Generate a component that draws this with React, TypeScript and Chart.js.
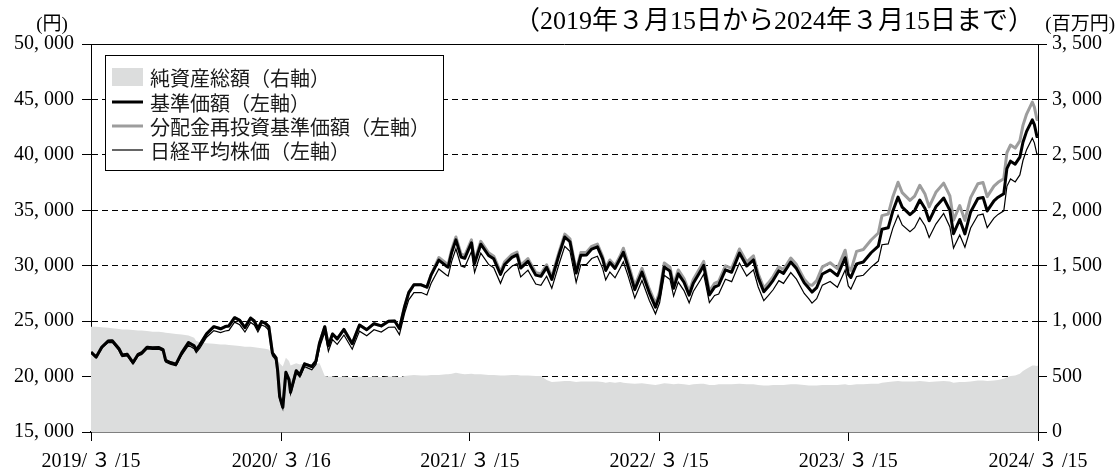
import React, { useEffect, useRef } from "react";
import { Chart, registerables } from "chart.js";

Chart.register(...registerables);

// ---- data ----
const dates = [
  "2019-03-15","2019-03-25","2019-04-05","2019-04-17","2019-04-25","2019-05-08","2019-05-14","2019-05-24","2019-06-04","2019-06-14",
  "2019-06-21","2019-07-01","2019-07-12","2019-07-24","2019-08-01","2019-08-06","2019-08-15","2019-08-26","2019-09-06","2019-09-19",
  "2019-09-30","2019-10-04","2019-10-11","2019-10-24","2019-11-07","2019-11-20","2019-11-29","2019-12-06","2019-12-17","2019-12-27",
  "2020-01-06","2020-01-17","2020-01-24","2020-01-31","2020-02-07","2020-02-14","2020-02-21","2020-02-28","2020-03-06","2020-03-09",
  "2020-03-13","2020-03-19","2020-03-25","2020-03-31","2020-04-03","2020-04-14","2020-04-21","2020-04-30","2020-05-14","2020-05-22",
  "2020-05-29","2020-06-08","2020-06-15","2020-06-23","2020-07-02","2020-07-15","2020-07-31","2020-08-14","2020-08-28","2020-09-11",
  "2020-09-25","2020-10-09","2020-10-21","2020-10-30","2020-11-09","2020-11-17","2020-11-27","2020-12-11","2020-12-22","2020-12-30",
  "2021-01-14","2021-01-28","2021-02-01","2021-02-08","2021-02-16","2021-02-26","2021-03-05","2021-03-18","2021-03-24","2021-04-05",
  "2021-04-20","2021-04-30","2021-05-13","2021-05-21","2021-06-04","2021-06-14","2021-06-21","2021-07-05","2021-07-20","2021-07-30",
  "2021-08-10","2021-08-20","2021-09-03","2021-09-14","2021-09-24","2021-10-06","2021-10-15","2021-10-26","2021-11-05","2021-11-16",
  "2021-11-26","2021-12-02","2021-12-10","2021-12-20","2021-12-30","2022-01-05","2022-01-14","2022-01-27","2022-02-10","2022-02-24",
  "2022-03-08","2022-03-16","2022-03-25","2022-04-05","2022-04-12","2022-04-21","2022-05-02","2022-05-12","2022-05-20","2022-06-03",
  "2022-06-09","2022-06-20","2022-06-30","2022-07-08","2022-07-21","2022-08-02","2022-08-17","2022-08-31","2022-09-13","2022-09-22",
  "2022-10-03","2022-10-12","2022-10-21","2022-11-01","2022-11-10","2022-11-24","2022-12-05","2022-12-20","2022-12-29","2023-01-04",
  "2023-01-13","2023-01-24","2023-02-08","2023-02-22","2023-03-09","2023-03-15","2023-03-20","2023-03-31","2023-04-13","2023-04-28",
  "2023-05-12","2023-05-19","2023-05-31","2023-06-09","2023-06-19","2023-06-27","2023-07-12","2023-07-21","2023-07-31","2023-08-10",
  "2023-08-18","2023-08-31","2023-09-15","2023-09-27","2023-10-04","2023-10-16","2023-10-26","2023-11-06","2023-11-20","2023-11-30",
  "2023-12-08","2023-12-21","2023-12-29","2024-01-09","2024-01-15","2024-01-22","2024-01-31","2024-02-09","2024-02-15","2024-02-22",
  "2024-03-04","2024-03-08","2024-03-13","2024-03-15",
];

// 基準価額（左軸）
const navValues = [
  22200,21760,22670,23210,23240,22510,21950,22010,21270,22010,
  22150,22640,22600,22620,22440,21460,21270,21120,22140,23070,
  22770,22410,22860,23850,24500,24310,24510,24570,25310,25070,
  24420,25280,25010,24320,24960,24820,24500,22130,21680,20590,
  18190,17230,20380,19730,18590,20530,20150,21150,20910,21400,
  23040,24490,22780,23840,23400,24250,22970,24650,24230,24770,
  24570,25000,25020,24330,26310,27570,28280,28280,28060,29150,
  30500,29980,29870,31220,32330,30780,30670,32070,30200,31940,
  30920,30620,29210,30110,30750,30980,29790,30400,29150,29040,
  29850,28760,31000,32590,32160,29340,30940,30970,31500,31700,
  30610,29570,30280,29760,30650,31210,29910,27840,29420,27580,
  26260,27310,29890,29510,27960,29270,28510,27350,28420,29530,
  30030,27370,28070,28240,29630,29410,31140,29970,30520,28950,
  27650,28120,28680,29550,29310,30330,29740,28450,27960,27620,
  28030,29250,29620,29100,30720,29230,28940,30170,30340,31170,
  31770,33290,33420,34940,36190,35280,34610,34980,35930,35160,
  34050,35310,36110,35000,32890,34170,32870,34850,36060,36160,
  34940,35850,36180,36500,38760,39430,39160,39790,41140,42120,
  43160,42730,41650,41660,
];

// 分配金再投資基準価額（左軸）
const reinvestValues = [
  22200,21760,22670,23210,23240,22510,21950,22010,21270,22010,
  22150,22640,22600,22620,22440,21460,21270,21120,22140,23070,
  22770,22410,22860,23850,24500,24310,24510,24570,25310,25070,
  24420,25280,25010,24320,24960,24820,24500,22130,21680,20590,
  18190,17230,20380,19730,18590,20530,20150,21150,20910,21400,
  23040,24490,22780,23840,23400,24250,22970,24650,24230,24770,
  24570,25000,25020,24330,26310,27570,28280,28280,28060,29150,
  30740,30220,30110,31470,32590,31030,30920,32330,30440,32200,
  31170,30860,29440,30350,31000,31230,30030,30640,29380,29270,
  30090,28990,31250,32850,32420,29570,31190,31220,31750,31950,
  30850,29810,30520,30000,30900,31580,30270,28170,29770,27910,
  26580,27640,30250,29860,28300,29620,28850,27680,28760,29880,
  30390,27700,28410,28580,29990,29760,31510,30330,30890,29300,
  27980,28460,29020,29900,29660,30690,30100,28790,28300,28230,
  28650,29890,30270,29740,31400,29870,29580,31290,31460,32320,
  32950,34520,34660,36230,37530,36590,35890,36270,37260,36460,
  35310,36620,37450,36300,34110,35430,34090,36140,37390,37500,
  36230,37180,37520,37850,40190,40890,40610,41260,42660,43680,
  44760,44310,43190,43200,
];

// 日経平均株価（左軸）
const nikkeiValues = [
  22200,21710,22570,23060,23090,22360,21800,21860,21120,21860,
  22000,22490,22450,22470,22290,21310,21120,20970,21940,22820,
  22520,22160,22560,23550,24150,23960,24110,24170,24910,24670,
  24020,24880,24660,24020,24660,24520,24200,21880,21480,20390,
  18040,17130,20230,19580,18440,20330,19950,20900,20610,21100,
  22640,23990,22280,23340,22900,23750,22470,24100,23680,24220,
  24020,24450,24470,23780,25710,26920,27580,27580,27360,28400,
  29700,29180,29070,30420,31530,29980,29870,31270,29400,31140,
  30120,29820,28410,29310,29950,30180,28990,29600,28350,28240,
  29050,27960,30150,31740,31310,28490,30090,30120,30650,30850,
  29760,28720,29430,28910,29800,30360,29110,27090,28670,26880,
  25660,26660,29140,28760,27260,28520,27760,26650,27670,28730,
  29230,26670,27320,27440,28780,28560,30240,29070,29620,28100,
  26850,27320,27830,28650,28410,29380,28790,27500,27010,26620,
  27030,28250,28570,28050,29620,28180,27890,29020,29140,29870,
  30420,31890,31970,33390,34540,33680,33060,33430,34330,33610,
  32550,33760,34710,33500,31590,32770,31670,33400,34560,34660,
  33440,34300,34630,34950,37160,37830,37560,38190,39490,40470,
  41510,41080,40050,40060,
];

// 純資産総額（右軸、百万円）
const netAssets = [
  950,950,945,940,935,930,925,925,920,915,
  915,910,905,905,900,895,890,885,880,870,
  850,820,810,800,795,790,790,785,780,775,
  770,770,765,760,755,750,745,700,690,660,
  620,590,670,640,600,620,610,620,610,615,
  620,505,500,500,495,500,490,500,495,500,
  495,500,500,495,505,510,515,510,510,515,
  515,520,520,525,535,525,520,525,520,520,
  515,515,510,510,515,515,510,510,505,505,
  470,450,455,460,460,450,455,455,455,455,
  450,445,450,445,450,445,440,435,440,430,
  425,430,440,435,430,435,430,425,430,435,
  435,425,425,430,430,430,435,430,430,425,
  420,420,425,425,425,430,430,425,420,420,
  420,425,425,425,430,425,425,430,430,435,
  435,445,450,455,460,455,455,455,460,455,
  450,455,460,455,445,450,450,455,465,465,
  460,465,470,480,495,505,510,525,550,570,
  600,600,595,600,
];

const leftTicks = [15000, 20000, 25000, 30000, 35000, 40000, 45000, 50000];
const leftTickLabels = ["15, 000", "20, 000", "25, 000", "30, 000", "35, 000", "40, 000", "45, 000", "50, 000"];
const rightTicks = [0, 500, 1000, 1500, 2000, 2500, 3000, 3500];
const rightTickLabels = ["0", "500", "1, 000", "1, 500", "2, 000", "2, 500", "3, 000", "3, 500"];
const xTickDates = ["2019-03-15", "2020-03-16", "2021-03-15", "2022-03-15", "2023-03-15", "2024-03-15"];
const xTickLabels = [
  "2019/\u2009３\u2009/15",
  "2020/\u2009３\u2009/16",
  "2021/\u2009３\u2009/15",
  "2022/\u2009３\u2009/15",
  "2023/\u2009３\u2009/15",
  "2024/\u2009３\u2009/15",
];

const legendLabels = ["純資産総額（右軸）", "基準価額（左軸）", "分配金再投資基準価額（左軸）", "日経平均株価（左軸）"];
const titleText = "（2019年３月15日から2024年３月15日まで）";
const leftUnit = "(円)";
const rightUnit = "(百万円)";

// ---- styling ----
const W = 1116;
const H = 468;
const SERIF = '"Liberation Serif", "Noto Sans CJK JP", serif';
const SANS = '"Noto Sans CJK JP", "Noto Sans", sans-serif';
const AREA_COLOR = "#dcdddd";
const GREY_LINE = "#9d9d9d";

const DAY = 86400000;
const t0 = Date.parse(dates[0] + "T00:00:00Z");
const dayOf = (d: string) => Math.round((Date.parse(d + "T00:00:00Z") - t0) / DAY);
const xs = dates.map(dayOf);
const pts = (vals: number[]) => vals.map((v, i) => ({ x: xs[i], y: v }));

const decorPlugin = {
  id: "decor",
  afterDraw(chart: any) {
    const { ctx, chartArea } = chart;
    const { left, right, top } = chartArea;
    ctx.save();
    // top frame line
    ctx.strokeStyle = "#000";
    ctx.lineWidth = 1;
    ctx.setLineDash([]);
    ctx.beginPath();
    ctx.moveTo(left, Math.round(top) + 0.5);
    ctx.lineTo(right, Math.round(top) + 0.5);
    ctx.stroke();

    // unit labels and title
    ctx.fillStyle = "#000";
    ctx.textBaseline = "middle";
    ctx.font = `19px ${SERIF}`;
    ctx.textAlign = "center";
    ctx.fillText(leftUnit, 52, 25);
    ctx.textAlign = "right";
    ctx.fillText(rightUnit, 1115, 25);
    ctx.font = `26px ${SERIF}`;
    ctx.fillText(titleText, 1034, 22);

    // legend
    const bx = 105.5, by = 55.5, bw = 338, bh = 115;
    ctx.fillStyle = "#fff";
    ctx.fillRect(bx, by, bw, bh);
    ctx.strokeStyle = "#000";
    ctx.lineWidth = 1;
    ctx.strokeRect(bx, by, bw, bh);
    const rows = [77, 102, 126, 150];
    const sx1 = 112, sx2 = 143;
    ctx.fillStyle = AREA_COLOR;
    ctx.fillRect(sx1, rows[0] - 9, sx2 - sx1, 18);
    ctx.strokeStyle = "#000";
    ctx.lineWidth = 3;
    ctx.beginPath(); ctx.moveTo(sx1, rows[1]); ctx.lineTo(sx2, rows[1]); ctx.stroke();
    ctx.strokeStyle = GREY_LINE;
    ctx.lineWidth = 3;
    ctx.beginPath(); ctx.moveTo(sx1, rows[2]); ctx.lineTo(sx2, rows[2]); ctx.stroke();
    ctx.strokeStyle = "#000";
    ctx.lineWidth = 1.2;
    ctx.beginPath(); ctx.moveTo(sx1, rows[3]); ctx.lineTo(sx2, rows[3]); ctx.stroke();
    ctx.fillStyle = "#1a1a1a";
    ctx.font = `20px ${SANS}`;
    ctx.textAlign = "left";
    ctx.textBaseline = "middle";
    legendLabels.forEach((t, i) => ctx.fillText(t, 150, rows[i] + 1));
    ctx.restore();
  },
};

export default function App() {
  const ref = useRef<HTMLCanvasElement | null>(null);

  useEffect(() => {
    if (!ref.current) return;
    const tickFont = { family: SERIF, size: 20 };
    const chart = new Chart(ref.current, {
      type: "line",
      data: {
        datasets: [
          {
            label: legendLabels[3],
            data: pts(nikkeiValues),
            yAxisID: "y",
            borderColor: "#000",
            borderWidth: 1.2,
            pointRadius: 0,
            tension: 0,
            fill: false,
            order: 1,
          },
          {
            label: legendLabels[1],
            data: pts(navValues),
            yAxisID: "y",
            borderColor: "#000",
            borderWidth: 3,
            borderJoinStyle: "round",
            pointRadius: 0,
            tension: 0,
            fill: false,
            order: 2,
          },
          {
            label: legendLabels[2],
            data: pts(reinvestValues),
            yAxisID: "y",
            borderColor: GREY_LINE,
            borderWidth: 3,
            borderJoinStyle: "round",
            pointRadius: 0,
            tension: 0,
            fill: false,
            order: 3,
          },
          {
            label: legendLabels[0],
            data: pts(netAssets),
            yAxisID: "y1",
            borderColor: AREA_COLOR,
            borderWidth: 0,
            backgroundColor: AREA_COLOR,
            pointRadius: 0,
            tension: 0,
            fill: "origin",
            order: 4,
          },
        ],
      },
      options: {
        responsive: false,
        animation: false,
        events: [],
        layout: { padding: { top: 44, left: 0, right: 0, bottom: 0 } },
        plugins: { legend: { display: false }, tooltip: { enabled: false }, title: { display: false } },
        scales: {
          x: {
            type: "linear",
            position: "bottom",
            min: 0,
            max: dayOf(xTickDates[xTickDates.length - 1]),
            afterBuildTicks: (s: any) => {
              s.ticks = xTickDates.map((d) => ({ value: dayOf(d) }));
            },
            afterFit: (s: any) => {
              s.height = H - 432;
            },
            grid: { drawOnChartArea: false, drawTicks: true, tickLength: 9, tickColor: "#000", tickWidth: 1 },
            border: { display: true, color: "#000", width: 1.5 },
            ticks: {
              font: tickFont,
              color: "#000",
              padding: 9,
              autoSkip: false,
              maxRotation: 0,
              minRotation: 0,
              callback: (_v: any, i: number) => xTickLabels[i],
            },
          },
          y: {
            position: "left",
            min: 15000,
            max: 50000,
            afterBuildTicks: (s: any) => {
              s.ticks = leftTicks.map((v) => ({ value: v }));
            },
            afterFit: (s: any) => {
              s.width = 91;
            },
            grid: {
              drawOnChartArea: true,
              drawTicks: true,
              tickLength: 9,
              tickColor: "#000",
              tickWidth: 1,
              lineWidth: 1,
              color: (c: any) =>
                c.tick && (c.tick.value === 15000 || c.tick.value === 50000) ? "rgba(0,0,0,0)" : "#000",
            },
            border: { display: true, color: "#000", width: 1, dash: [6, 4] },
            ticks: {
              font: tickFont,
              color: "#000",
              padding: 8,
              callback: (_v: any, i: number) => leftTickLabels[i],
            },
          },
          y1: {
            position: "right",
            min: 0,
            max: 3500,
            afterBuildTicks: (s: any) => {
              s.ticks = rightTicks.map((v) => ({ value: v }));
            },
            afterFit: (s: any) => {
              s.width = W - 1038;
            },
            grid: { drawOnChartArea: false, drawTicks: true, tickLength: 9, tickColor: "#000", tickWidth: 1 },
            border: { display: true, color: "#000", width: 1 },
            ticks: {
              font: tickFont,
              color: "#000",
              padding: 5,
              callback: (_v: any, i: number) => rightTickLabels[i],
            },
          },
        },
      },
      plugins: [decorPlugin],
    } as any);
    return () => chart.destroy();
  }, []);

  return (
    <div style={{ position: "absolute", left: 0, top: 0, width: W, height: H, background: "#fff" }}>
      <canvas ref={ref} width={W} height={H} style={{ display: "block", width: W, height: H }} />
    </div>
  );
}
